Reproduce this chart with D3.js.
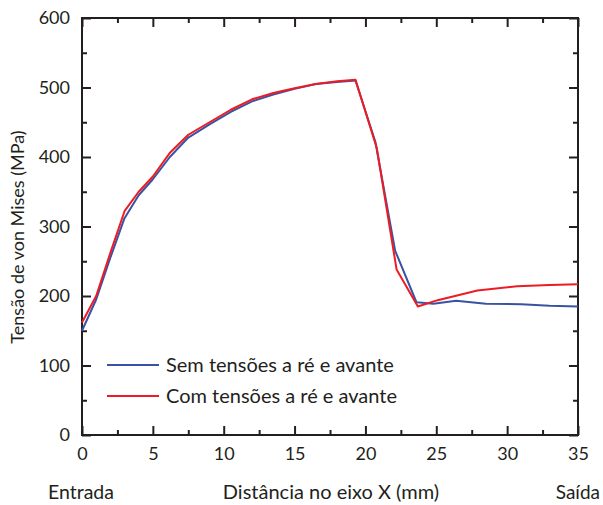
<!DOCTYPE html>
<html>
<head>
<meta charset="utf-8">
<script src="https://cdn.jsdelivr.net/npm/d3@7"></script>
<style>
  body { margin: 0; background: #fff; }
  text { font-family: Lato, "Open Sans", sans-serif; fill: #231f20; }
</style>
</head>
<body>
<div id="chart"></div>
<script>
// Data
const semX = [0, 1, 2, 3, 4, 5, 6.2, 7.5, 9, 10.5, 12, 13.5, 15, 16.5, 18, 19.3, 20.7, 22.1, 23.6, 24.8, 26.4, 28.5, 31, 33, 35];
const semY = [150, 195, 255, 312, 345, 368, 400, 428, 447, 465, 480, 490, 498, 505, 508, 510, 422, 265, 191, 189, 193, 189, 188, 186, 185];
const comX = [0, 1, 2, 3, 4, 5, 6.2, 7.5, 9, 10.5, 12, 13.5, 15, 16.5, 18, 19.3, 20.8, 22.2, 23.7, 25.1, 27.9, 30.7, 33, 35];
const comY = [162, 200, 262, 322, 350, 372, 406, 432, 450, 468, 483, 492, 499, 505, 509, 511, 413, 238, 185, 194, 208, 214, 216, 217];
const seriesNames = ["Sem tensões a ré e avante", "Com tensões a ré e avante"];
const seriesColors = ["#3953a4", "#ed1c24"];
const xTicks = [0, 5, 10, 15, 20, 25, 30, 35];
const yTicks = [0, 100, 200, 300, 400, 500, 600];

const margin = {top: 18, right: 25, bottom: 70, left: 82};
const W = 603, H = 505;
const width = W - margin.left - margin.right;
const height = H - margin.top - margin.bottom;

const svg = d3.select("#chart").append("svg")
    .attr("width", W)
    .attr("height", H);
const g = svg.append("g")
    .attr("transform", "translate(" + margin.left + "," + margin.top + ")");

const x = d3.scaleLinear().domain([0, 35]).range([0, width]);
const y = d3.scaleLinear().domain([0, 600]).range([height, 0]);

const xMinor = d3.range(2.5, 35, 5);
const yMinor = d3.range(50, 600, 100);

// minor ticks on all four sides
function minor(axis, vals) {
    return axis.tickValues(vals).tickSize(-5).tickFormat("");
}
g.append("g").attr("transform", "translate(0," + height + ")").call(minor(d3.axisBottom(x), xMinor));
g.append("g").call(minor(d3.axisTop(x), xMinor));
g.append("g").call(minor(d3.axisLeft(y), yMinor));
g.append("g").attr("transform", "translate(" + width + ",0)").call(minor(d3.axisRight(y), yMinor));

// major ticks
g.append("g")
    .attr("transform", "translate(0," + height + ")")
    .call(d3.axisBottom(x).tickValues(xTicks).tickSize(-9).tickPadding(12));
g.append("g").call(d3.axisTop(x).tickValues(xTicks).tickSize(-9).tickFormat(""));
g.append("g")
    .call(d3.axisLeft(y).tickValues(yTicks).tickSize(-9).tickPadding(12));
g.append("g").attr("transform", "translate(" + width + ",0)")
    .call(d3.axisRight(y).tickValues(yTicks).tickSize(-9).tickFormat(""));

g.selectAll(".domain").remove();
g.selectAll(".tick line").attr("stroke", "#231f20").attr("stroke-width", 2);
g.selectAll(".tick text").style("font-size", "18px").attr("fill", "#231f20");

// frame
g.append("rect")
    .attr("width", width).attr("height", height)
    .attr("fill", "none").attr("stroke", "#231f20").attr("stroke-width", 2);

// curves
const line = d3.line().x(d => x(d[0])).y(d => y(d[1]));
const series = [d3.zip(semX, semY), d3.zip(comX, comY)];
series.forEach((s, i) => {
    g.append("path")
        .datum(s)
        .attr("fill", "none")
        .attr("stroke", seriesColors[i])
        .attr("stroke-width", 2)
        .attr("stroke-linejoin", "round")
        .attr("d", line);
});

// legend
const legend = g.selectAll(".leg").data(seriesNames).enter().append("g")
    .attr("transform", (d, i) => "translate(25," + (347 + i * 31) + ")");
legend.append("line")
    .attr("x1", 0).attr("x2", 52)
    .attr("stroke", (d, i) => seriesColors[i]).attr("stroke-width", 2);
legend.append("text")
    .attr("x", 59).attr("dy", "0.35em")
    .style("font-size", "20px")
    .text(d => d);

// axis titles
svg.append("text")
    .attr("transform", "translate(24,237) rotate(-90)")
    .attr("text-anchor", "middle")
    .style("font-size", "18px")
    .text("Tensão de von Mises (MPa)");
svg.append("text")
    .attr("x", 331).attr("y", 499)
    .attr("text-anchor", "middle")
    .style("font-size", "20px")
    .text("Distância no eixo X (mm)");
svg.append("text")
    .attr("x", 48).attr("y", 499)
    .style("font-size", "19.5px")
    .text("Entrada");
svg.append("text")
    .attr("x", 600).attr("y", 499)
    .attr("text-anchor", "end")
    .style("font-size", "19px")
    .text("Saída");
</script>
</body>
</html>
